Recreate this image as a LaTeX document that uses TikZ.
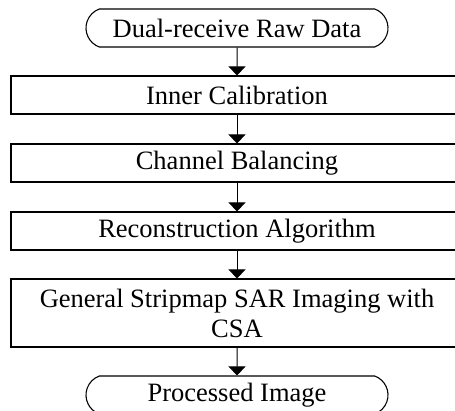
\documentclass[tikz,border=0pt]{standalone}
\usepackage{fontspec}
\setmainfont{Liberation Serif}
\usetikzlibrary{shapes.misc,arrows.meta}
\begin{document}
\begin{tikzpicture}[x=1pt,y=-1pt,
  every node/.style={font=\fontsize{26.5}{30}\selectfont, inner sep=0pt},
  stepbox/.style={draw, line width=1.1pt, rectangle, minimum width=452pt,
    minimum height=38pt, align=center},
  terminal/.style={draw, line width=1.1pt, rounded rectangle,
    rounded rectangle arc length=140, minimum width=302pt, minimum height=38pt},
  flow/.style={draw, line width=1pt, -{Triangle[width=17pt,length=9pt]}}]
\clip (0,0) rectangle (455,411);

% flow chart steps
\node[terminal] (raw)   at (237,28)  {Dual-receive Raw Data};
\node[stepbox]  (cal)   at (237,95)  {Inner Calibration};
\node[stepbox]  (bal)   at (237,163) {Channel Balancing};
\node[stepbox]  (rec)   at (237,231) {Reconstruction Algorithm};
\node[stepbox, minimum height=68pt] (csa) at (237,313)
  {General Stripmap SAR Imaging with\\CSA};
\node[terminal] (img)   at (237,395) {Processed Image};

% connectors
\draw[flow] (raw) -- (cal);
\draw[flow] (cal) -- (bal);
\draw[flow] (bal) -- (rec);
\draw[flow] (rec) -- (csa);
\draw[flow] (csa) -- (img);
\end{tikzpicture}
\end{document}
